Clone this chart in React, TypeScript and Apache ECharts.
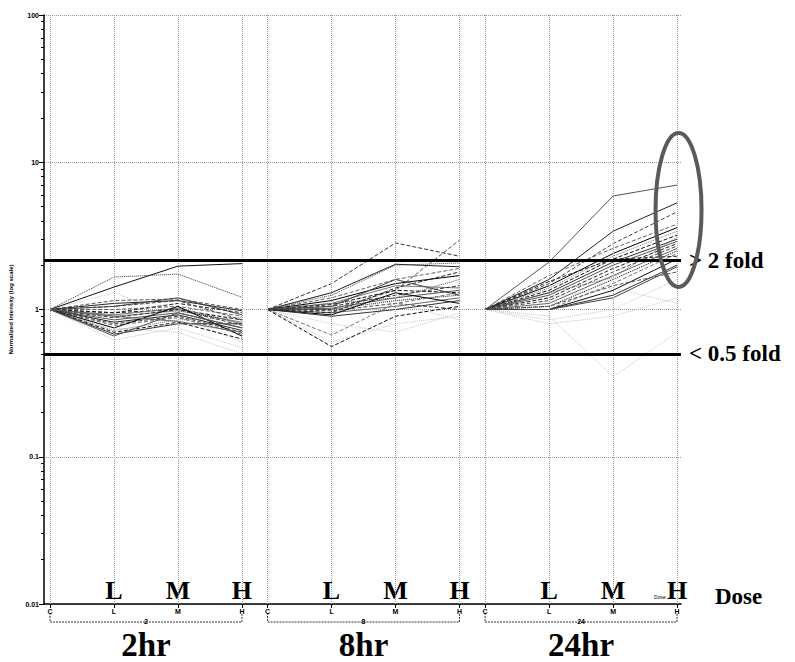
import React, { useEffect, useRef } from "react";
import * as echarts from "echarts";

// ---- axis structure ----
const groupNames = ["2hr", "8hr", "24hr"];
const groupSmall = ["2", "8", "24"];
const doseLetters = ["C", "L", "M", "H"];
const groupX = [
  [0, 5, 10, 15],
  [17, 22, 27, 32],
  [34, 39, 44, 49],
];
const groupCenters = [7.5, 24.5, 41.5];
const twoFold = 2.15;
const halfFold = 0.5;

// ---- series values (L, M, H); C is always 1 ----
const genes2hr = [
  [1.42, 1.97, 2.05], [1.66, 1.74, 1.21], [1.15, 1.18, 1.0], [1.1, 1.15, 0.98],
  [1.05, 1.2, 0.92], [1.0, 1.05, 0.9], [0.95, 1.0, 0.85], [0.92, 1.02, 0.8],
  [0.9, 0.98, 0.82], [0.88, 1.0, 0.78], [0.85, 0.95, 0.75], [0.82, 0.92, 0.72],
  [0.8, 0.9, 0.7], [0.78, 0.88, 0.68], [0.75, 1.05, 0.66], [0.72, 0.85, 0.88],
  [0.7, 0.82, 0.63], [0.68, 0.8, 0.8], [0.66, 0.95, 0.75], [0.95, 1.1, 0.95],
  [1.05, 1.15, 0.85], [0.9, 0.83, 0.7],
];
const genes8hr = [
  [1.5, 2.83, 2.3], [1.0, 1.35, 2.96], [1.3, 2.03, 1.95], [1.25, 2.0, 2.07],
  [1.2, 1.6, 1.9], [1.15, 1.5, 1.7], [1.1, 1.45, 1.4], [1.08, 1.35, 1.3],
  [1.05, 1.25, 1.45], [1.02, 1.2, 1.35], [1.0, 1.15, 1.25], [0.98, 1.1, 1.0],
  [0.95, 1.05, 1.2], [0.92, 1.3, 1.1], [0.67, 1.1, 1.3], [0.56, 0.9, 1.05],
  [0.9, 1.0, 1.15], [1.1, 1.2, 1.6], [0.95, 1.4, 1.8], [1.05, 1.6, 1.25],
];
const genes24hr = [
  [2.1, 5.9, 7.0], [1.6, 3.4, 5.3], [1.5, 2.8, 4.6], [1.7, 2.6, 3.8],
  [1.45, 2.4, 3.6], [1.4, 2.3, 3.4], [1.35, 2.2, 3.2], [1.3, 2.1, 3.0],
  [1.25, 2.0, 2.9], [1.2, 1.9, 2.8], [1.15, 1.8, 2.7], [1.1, 1.7, 2.6],
  [1.05, 1.6, 2.5], [1.0, 1.5, 2.4], [1.0, 1.35, 2.2], [1.0, 1.25, 2.0],
  [1.05, 1.45, 1.8], [1.55, 2.2, 2.3], [1.0, 1.2, 1.95], [1.3, 1.65, 3.1],
];
const faint2hr = [[0.62, 0.75, 0.55], [1.3, 0.9, 0.6], [0.75, 0.7, 0.5]];
const faint8hr = [[0.6, 0.8, 0.9], [0.8, 0.7, 0.95], [1.3, 1.1, 0.85]];
const faint24hr = [[0.8, 0.9, 1.2], [0.9, 0.35, 0.7], [1.2, 1.4, 1.1], [0.85, 1.0, 1.6]];

const groupsData = [genes2hr, genes8hr, genes24hr];
const faintData = [faint2hr, faint8hr, faint24hr];

const lineColors = ["#111", "#333", "#555", "#222", "#444", "#666", "#000", "#777"];
const lineTypes = ["solid", "dashed", "solid", "dotted", "dashed", "solid", "dashed"];

const allX = groupX.flat();
const lmhX = groupX.flatMap((g) => g.slice(1));

export default function App() {
  const ref = useRef<HTMLDivElement>(null);

  useEffect(() => {
    if (!ref.current) return;
    const chart = echarts.init(ref.current, undefined, { renderer: "svg" });
    const serif = "Liberation Serif";
    const sans = "Liberation Sans";

    const series: any[] = [];
    groupsData.forEach((genes, gi) => {
      genes.forEach((vals, i) => {
        series.push({
          type: "line",
          symbol: "none",
          silent: true,
          data: [1, ...vals].map((v, k) => [groupX[gi][k], v]),
          lineStyle: {
            width: 1,
            color: lineColors[(i + gi) % lineColors.length],
            type: lineTypes[(i * 3 + gi) % lineTypes.length],
          },
          z: 3,
        });
      });
    });
    faintData.forEach((genes, gi) => {
      genes.forEach((vals) => {
        series.push({
          type: "line",
          symbol: "none",
          silent: true,
          data: [1, ...vals].map((v, k) => [groupX[gi][k], v]),
          lineStyle: { width: 1, color: "#c8c8c8", type: "dotted" },
          z: 2,
        });
      });
    });

    const foldLabel = {
      show: true,
      position: "end",
      distance: 8,
      fontFamily: serif,
      fontWeight: "bold",
      fontSize: 23,
      color: "#000",
    };
    series.push({
      type: "line",
      symbol: "none",
      silent: true,
      data: [],
      markLine: {
        silent: true,
        symbol: "none",
        animation: false,
        data: [
          ...allX.map((x) => ({
            xAxis: x,
            label: { show: false },
            lineStyle: { color: "#9a9a9a", type: "dotted", width: 1 },
          })),
          {
            yAxis: twoFold,
            label: { ...foldLabel, formatter: "> 2 fold" },
            lineStyle: { color: "#000", type: "solid", width: 3 },
          },
          {
            yAxis: halfFold,
            label: { ...foldLabel, formatter: "< 0.5 fold" },
            lineStyle: { color: "#000", type: "solid", width: 3 },
          },
        ],
      },
      z: 5,
    });

    const xBase = {
      type: "value",
      min: -0.47,
      max: 49.31,
      position: "bottom",
      gridIndex: 0,
      splitLine: { show: false },
    };

    const labelFor = (v: number) => {
      for (const g of groupX) {
        const k = g.indexOf(v);
        if (k >= 0) return doseLetters[k];
      }
      return "";
    };

    chart.setOption({
      animation: false,
      backgroundColor: "#fff",
      grid: { left: 44, right: 114, top: 15, bottom: 58, containLabel: false },
      xAxis: [
        {
          ...xBase,
          axisLine: { show: true, onZero: false, lineStyle: { color: "#000", width: 1.5 } },
          axisTick: { show: true, customValues: allX, length: 4, lineStyle: { color: "#000" } },
          axisLabel: {
            show: true,
            customValues: allX,
            formatter: (v: number) => labelFor(v),
            fontSize: 7,
            fontWeight: "bold",
            fontFamily: sans,
            color: "#000",
            margin: 4,
          },
        },
        {
          ...xBase,
          axisLine: { show: false, onZero: false },
          axisTick: { show: false },
          axisLabel: {
            show: true,
            inside: true,
            customValues: lmhX,
            formatter: (v: number) => labelFor(v),
            fontSize: 26,
            fontWeight: "bold",
            fontFamily: serif,
            color: "#000",
            margin: 1,
          },
        },
        {
          ...xBase,
          axisLine: { show: false, onZero: false },
          axisTick: { show: false },
          axisLabel: {
            show: true,
            customValues: groupCenters,
            formatter: (v: number) => groupNames[groupCenters.indexOf(v)] ?? "",
            fontSize: 33,
            fontWeight: "bold",
            fontFamily: serif,
            color: "#000",
            margin: 24,
          },
        },
        {
          ...xBase,
          axisLine: { show: false, onZero: false },
          axisTick: { show: false },
          axisLabel: {
            show: true,
            customValues: groupCenters,
            formatter: (v: number) => groupSmall[groupCenters.indexOf(v)] ?? "",
            fontSize: 7,
            fontWeight: "bold",
            fontFamily: sans,
            color: "#000",
            margin: 14,
          },
        },
      ],
      yAxis: {
        type: "log",
        logBase: 10,
        min: 0.01,
        max: 100,
        name: "Normalized Intensity (log scale)",
        nameLocation: "middle",
        nameGap: 29,
        nameTextStyle: { fontSize: 6, fontWeight: "bold", fontFamily: sans, color: "#000" },
        axisLine: { show: true, onZero: false, lineStyle: { color: "#000", width: 1.5 } },
        axisTick: { show: true, length: 5, lineStyle: { color: "#000" } },
        minorTick: { show: true, splitNumber: 9, length: 3, lineStyle: { color: "#000" } },
        axisLabel: {
          fontSize: 7,
          fontWeight: "bold",
          fontFamily: sans,
          color: "#000",
          margin: 5,
          formatter: (v: number) => String(v),
        },
        splitLine: { show: true, lineStyle: { color: "#9a9a9a", type: "dotted" } },
      },
      series,
    });

    const px = (x: number, y: number) =>
      chart.convertToPixel({ xAxisIndex: 0, yAxisIndex: 0 }, [x, y]) as number[];

    const [, axisY] = px(0, 0.01);
    const graphics: any[] = [];
    groupX.forEach((g) => {
      const x0 = px(g[0], 1)[0];
      const x3 = px(g[3], 1)[0];
      graphics.push({
        type: "polyline",
        silent: true,
        shape: {
          points: [
            [x0, axisY + 9],
            [x0, axisY + 18],
            [x3, axisY + 18],
            [x3, axisY + 9],
          ],
        },
        style: { stroke: "#333", lineWidth: 1, fill: null, lineDash: [2, 1] },
      });
    });
    const [hx, hy] = px(49, 4.74);
    graphics.push({
      type: "ellipse",
      silent: true,
      shape: { cx: hx + 1.5, cy: hy, rx: 23, ry: 77 },
      style: { stroke: "#5a5a5a", lineWidth: 4, fill: null },
      z: 10,
    });
    const [gridRight] = px(49.31, 1);
    graphics.push({
      type: "text",
      silent: true,
      x: gridRight + 34,
      y: axisY - 8,
      style: {
        text: "Dose",
        fontFamily: serif,
        fontWeight: "bold",
        fontSize: 23,
        fill: "#000",
        verticalAlign: "middle",
      },
    });
    graphics.push({
      type: "text",
      silent: true,
      x: hx - 23,
      y: axisY - 7,
      style: {
        text: "Dose",
        fontFamily: sans,
        fontSize: 5,
        fill: "#000",
        verticalAlign: "middle",
      },
    });
    chart.setOption({ graphic: graphics });

    return () => chart.dispose();
  }, []);

  return (
    <div
      ref={ref}
      style={{ position: "absolute", left: 0, top: 0, width: 795, height: 662, background: "#fff" }}
    />
  );
}
